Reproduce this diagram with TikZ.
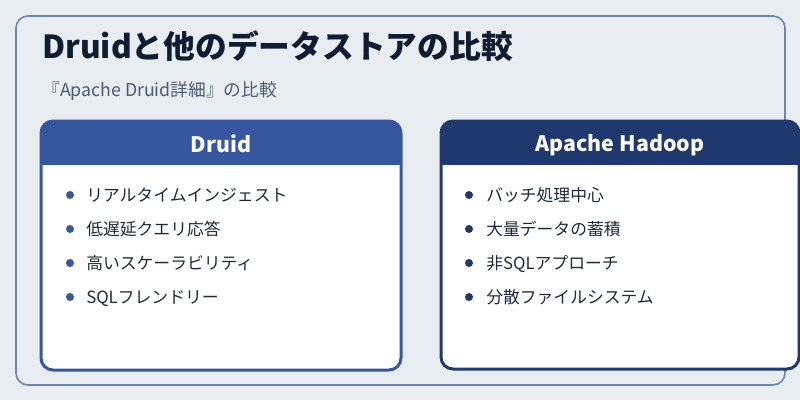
\documentclass[tikz,border=0pt]{standalone}
\usepackage{fontspec}
\setmainfont{Noto Sans CJK JP}
\definecolor{bgcol}{HTML}{E8EDF2}
\definecolor{framecol}{HTML}{6D84AC}
\definecolor{titlecol}{HTML}{0F1D33}
\definecolor{subcol}{HTML}{4A5B74}
\definecolor{druidcol}{HTML}{36569F}
\definecolor{hadoopcol}{HTML}{1F386E}
\definecolor{itemcol}{HTML}{1E293B}

\begin{document}
\begin{tikzpicture}[x=0.75pt,y=-0.75pt,
  item/.style={anchor=base west,inner sep=0pt,text=itemcol,font=\fontsize{12.6}{15}\selectfont},
  head/.style={anchor=base,inner sep=0pt,text=white,font=\fontsize{16}{19}\selectfont\bfseries}]
\useasboundingbox (0,0) rectangle (800,400);
\fill[bgcol] (0,0) rectangle (800,400);
\draw[framecol, line width=1.2pt, rounded corners=9pt] (16,16) rectangle (785,385);
\node[anchor=base west, inner sep=0pt, text=titlecol, font=\fontsize{23.8}{28}\selectfont\bfseries] (title) at (42,58) {Druidと他のデータストアの比較};
\node[anchor=base west, inner sep=0pt, text=subcol, font=\fontsize{13.3}{16}\selectfont] (subtitle) at (42,96) {『Apache Druid詳細』の比較};

% Druid
\begin{scope}
\clip[rounded corners=9pt] (41,121) rectangle (401,370);
\fill[white] (41,121) rectangle (401,370);
\fill[druidcol] (41,121) rectangle (401,165);
\end{scope}
\draw[druidcol, line width=2.25pt, rounded corners=9pt] (41,121) rectangle (401,370);
\node[head] (druid) at (221,152) {Druid};
\foreach \t [count=\i] in {リアルタイムインジェスト, 低遅延クエリ応答, 高いスケーラビリティ, SQLフレンドリー}{
  \fill[druidcol] (70,161+34*\i) circle (3pt);
  \node[item] (druid\i) at (86,167+34*\i) {\t};
}

% Hadoop
\begin{scope}
\clip[rounded corners=9pt] (441,121) rectangle (799,369);
\fill[white] (441,121) rectangle (799,369);
\fill[hadoopcol] (441,121) rectangle (799,165);
\end{scope}
\draw[hadoopcol, line width=2.25pt, rounded corners=9pt] (441,121) rectangle (799,369);
\node[head] (hadoop) at (620,151) {Apache Hadoop};
\foreach \t [count=\i] in {バッチ処理中心, 大量データの蓄積, 非SQLアプローチ, 分散ファイルシステム}{
  \fill[hadoopcol] (469,161+34*\i) circle (3pt);
  \node[item] (hadoop\i) at (486,167+34*\i) {\t};
}
\end{tikzpicture}
\end{document}
